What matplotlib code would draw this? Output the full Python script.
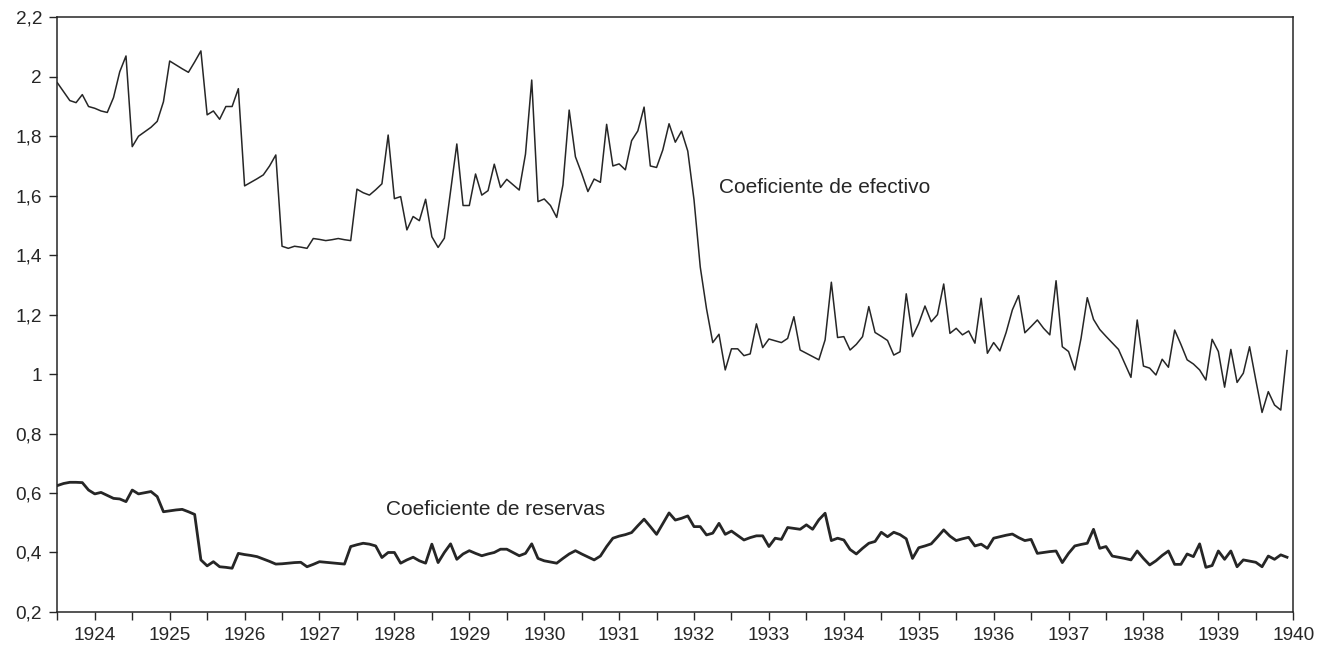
import numpy as np
import matplotlib
matplotlib.use("Agg")
import matplotlib.pyplot as plt
from matplotlib.ticker import MultipleLocator, FuncFormatter

# monthly series, July 1923 - December 1939
start_year = 1923.5

efectivo = [
    1.98, 1.95, 1.92, 1.913, 1.94, 1.90, 1.894, 1.885, 1.88, 1.93,
    2.017, 2.07, 1.765, 1.80, 1.815, 1.83, 1.85, 1.916, 2.053, 2.04,
    2.027, 2.015, 2.05, 2.087, 1.872, 1.885, 1.857, 1.90, 1.90, 1.96,
    1.633, 1.645, 1.657, 1.67, 1.70, 1.737, 1.43, 1.423, 1.43, 1.427,
    1.423, 1.456, 1.453, 1.449, 1.452, 1.456, 1.452, 1.449, 1.622, 1.61,
    1.602, 1.62, 1.64, 1.804, 1.59, 1.597, 1.485, 1.53, 1.516, 1.588,
    1.462, 1.426, 1.457, 1.615, 1.774, 1.567, 1.567, 1.673, 1.602, 1.617,
    1.706, 1.628, 1.655, 1.637, 1.619, 1.74, 1.989, 1.58, 1.589, 1.567,
    1.527, 1.636, 1.888, 1.731, 1.675, 1.614, 1.656, 1.645, 1.84, 1.70,
    1.707, 1.687, 1.785, 1.818, 1.898, 1.70, 1.695, 1.754, 1.842, 1.78,
    1.817, 1.75, 1.586, 1.36, 1.22, 1.106, 1.134, 1.014, 1.085, 1.085,
    1.062, 1.068, 1.169, 1.089, 1.118, 1.112, 1.106, 1.12, 1.193, 1.081,
    1.07, 1.059, 1.048, 1.115, 1.309, 1.123, 1.126, 1.081, 1.10, 1.126,
    1.227, 1.14, 1.127, 1.113, 1.064, 1.075, 1.27, 1.126, 1.17, 1.229,
    1.176, 1.20, 1.303, 1.137, 1.154, 1.132, 1.145, 1.104, 1.255, 1.07,
    1.106, 1.078, 1.14, 1.216, 1.264, 1.139, 1.16, 1.182, 1.154, 1.132,
    1.314, 1.092, 1.076, 1.014, 1.12, 1.257, 1.184, 1.15, 1.127, 1.105,
    1.083, 1.036, 0.989, 1.182, 1.027, 1.02, 0.997, 1.05, 1.023, 1.148,
    1.10, 1.048, 1.034, 1.014, 0.98, 1.117, 1.076, 0.956, 1.083, 0.972,
    1.003, 1.092, 0.98, 0.871, 0.941, 0.896, 0.879, 1.079,
]

reservas = [
    0.625, 0.632, 0.636, 0.636, 0.635, 0.61, 0.597, 0.602, 0.592, 0.582,
    0.58, 0.571, 0.61, 0.597, 0.601, 0.605, 0.588, 0.537, 0.54, 0.543,
    0.545, 0.537, 0.528, 0.375, 0.355, 0.369, 0.352, 0.35, 0.347, 0.397,
    0.393, 0.39, 0.386, 0.378, 0.37, 0.361, 0.362, 0.364, 0.366, 0.367,
    0.352, 0.36, 0.369, 0.367, 0.365, 0.363, 0.361, 0.42, 0.426, 0.431,
    0.428, 0.422, 0.383, 0.40, 0.40, 0.364, 0.375, 0.384, 0.372, 0.364,
    0.428, 0.366, 0.40, 0.429, 0.377, 0.395, 0.406, 0.397, 0.389, 0.395,
    0.40, 0.411, 0.411, 0.40, 0.389, 0.397, 0.429, 0.38, 0.372, 0.368,
    0.364, 0.38, 0.395, 0.406, 0.395, 0.385, 0.375, 0.388, 0.42, 0.448,
    0.455, 0.46, 0.467, 0.49, 0.512, 0.487, 0.461, 0.497, 0.533, 0.509,
    0.515, 0.523, 0.487, 0.487, 0.459, 0.465, 0.498, 0.461, 0.472, 0.457,
    0.442, 0.45, 0.456, 0.456, 0.42, 0.448, 0.444, 0.484, 0.481, 0.478,
    0.493, 0.478, 0.51, 0.532, 0.44, 0.448, 0.442, 0.41, 0.395, 0.414,
    0.431, 0.437, 0.468, 0.453, 0.468, 0.46, 0.446, 0.38, 0.416, 0.422,
    0.429, 0.452, 0.476, 0.455, 0.44, 0.446, 0.451, 0.422, 0.428, 0.414,
    0.448, 0.453, 0.458, 0.462, 0.45, 0.44, 0.444, 0.397, 0.40, 0.403,
    0.405, 0.366, 0.397, 0.422, 0.427, 0.431, 0.478, 0.414, 0.42, 0.388,
    0.384, 0.38, 0.375, 0.405, 0.38, 0.358, 0.372, 0.39, 0.405, 0.36,
    0.36, 0.395, 0.386, 0.429, 0.35, 0.356, 0.405, 0.377, 0.405, 0.352,
    0.375, 0.371, 0.367, 0.352, 0.388, 0.377, 0.392, 0.384,
]

year_labels = list(range(1924, 1941))

ink = "#262626"
plt.rcParams['font.family'] = ['Liberation Sans', 'DejaVu Sans']

months = start_year + np.arange(len(efectivo)) / 12.0

fig = plt.figure(figsize=(13.21, 6.51), dpi=100)
ax = fig.add_axes([0.0434, 0.060, 0.9356, 0.9134])

ax.plot(months, efectivo, color=ink, lw=1.1)
ax.plot(months, reservas[:len(months)], color=ink, lw=2.0)

ax.set_xlim(1923.5, 1940)
ax.set_ylim(0.2, 2.2)

ax.xaxis.set_major_locator(MultipleLocator(0.5))
ax.xaxis.set_major_formatter(FuncFormatter(
    lambda v, p: str(int(round(v))) if abs(v - round(v)) < 1e-6 and int(round(v)) in year_labels else ""))
ax.yaxis.set_major_locator(MultipleLocator(0.2))
ax.yaxis.set_major_formatter(FuncFormatter(
    lambda v, p: ("%.1f" % v).rstrip("0").rstrip(".").replace(".", ",")))

ax.tick_params(axis='both', direction='out', length=6, width=1.0, color=ink,
               labelcolor=ink, labelsize=13.7, pad=5)
for s in ax.spines.values():
    s.set_color(ink)
    s.set_linewidth(1.1)

ax.text(1932.34, 1.626, "Coeficiente de efectivo", fontsize=15, color=ink,
        ha='left', va='center')
ax.text(1927.89, 0.543, "Coeficiente de reservas", fontsize=15, color=ink,
        ha='left', va='center')

fig.savefig("out.png", dpi=100)
